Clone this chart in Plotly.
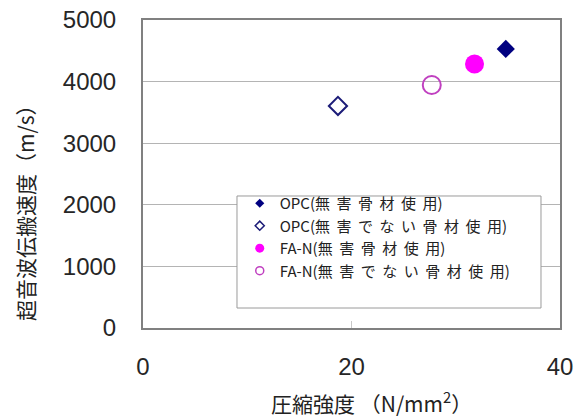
import plotly.graph_objects as go

# Compressive strength (N/mm2) vs. ultrasonic pulse velocity (m/s)
series_prefix = ["OPC", "OPC", "FA-N", "FA-N"]
series_detail = ["無害骨材使用", "無害でない骨材使用", "無害骨材使用", "無害でない骨材使用"]
strength = [34.8, 18.7, 31.8, 27.7]
velocity = [4530, 3605, 4285, 3945]

x_ticks = [0, 20, 40]
y_ticks = [0, 1000, 2000, 3000, 4000, 5000]

symbols = ["diamond", "diamond-open", "circle", "circle-open"]
fill_colors = ["#000080", "#1c1c78", "#ff00ff", "#c040c0"]
plot_sizes = [14, 14, 19, 18]
legend_sizes = [7, 7, 9, 8]

fig = go.Figure()

for x, y, sym, col, ps in zip(strength, velocity, symbols, fill_colors, plot_sizes):
    fig.add_trace(go.Scatter(
        x=[x], y=[y], mode="markers", showlegend=False,
        marker=dict(symbol=sym, size=ps, color=col,
                    line=dict(color=col, width=2 if "open" in sym else 0)),
    ))

# legend entries with smaller glyphs than the plotted points;
# the Japanese part is letter-spaced, the last glyph sits tight to ")"
for pre, det, sym, col, ls in zip(series_prefix, series_detail, symbols,
                                   fill_colors, legend_sizes):
    label = (f'{pre}(<span style="letter-spacing:6.5px">{det[:-1]}</span>'
             f'{det[-1]})')
    fig.add_trace(go.Scatter(
        x=[None], y=[None], mode="markers", name=label,
        marker=dict(symbol=sym, size=ls, color=col,
                    line=dict(color=col, width=1.5 if "open" in sym else 0)),
    ))

tick_font = dict(family="Liberation Sans, Arial, sans-serif", size=24, color="#262626")
cjk = "Noto Sans CJK JP, sans-serif"

fig.update_xaxes(
    range=[0, 40], tickvals=x_ticks, tickfont=tick_font,
    showgrid=False, zeroline=False, automargin=False,
    showline=True, linecolor="#808080", linewidth=2, mirror=True,
    ticks="inside", ticklen=7, tickcolor="#c8c8c8", tickwidth=1,
    ticklabelstandoff=16,
)
fig.update_yaxes(
    range=[0, 5000], tickvals=y_ticks, tickfont=tick_font,
    showgrid=True, gridcolor="#b4b4b4", gridwidth=1, zeroline=False,
    automargin=False,
    showline=True, linecolor="#808080", linewidth=2, mirror=True,
    ticklabelstandoff=20,
)

fig.add_annotation(
    text="圧縮強度 （N/mm<sup>2</sup>）", xref="paper", yref="paper",
    x=0.547, y=-0.240, showarrow=False, xanchor="center", yanchor="middle",
    font=dict(family=cjk, size=21, color="#222222"),
)
fig.add_annotation(
    text="超音波伝搬速度（m/s）", xref="paper", yref="paper",
    x=-0.283, y=0.393, showarrow=False, xanchor="center", yanchor="middle",
    textangle=-90, font=dict(family=cjk, size=21, color="#222222"),
)

# legend frame, drawn over the gridlines
fig.add_shape(
    type="rect", xref="paper", yref="paper",
    x0=0.2254, x1=0.9544, y0=0.0649, y1=0.4286,
    line=dict(color="#9a9a9a", width=1), fillcolor="white", layer="above",
)

fig.update_layout(
    width=580, height=419,
    margin=dict(l=143, r=20, t=20, b=91),
    paper_bgcolor="white", plot_bgcolor="white",
    legend=dict(
        x=0.232, y=0.458, xanchor="left", yanchor="top",
        bgcolor="rgba(0,0,0,0)", borderwidth=0,
        font=dict(family=cjk, size=15, color="#222222"),
        itemwidth=30, tracegroupgap=0,
    ),
)

fig.write_html("out.html")
